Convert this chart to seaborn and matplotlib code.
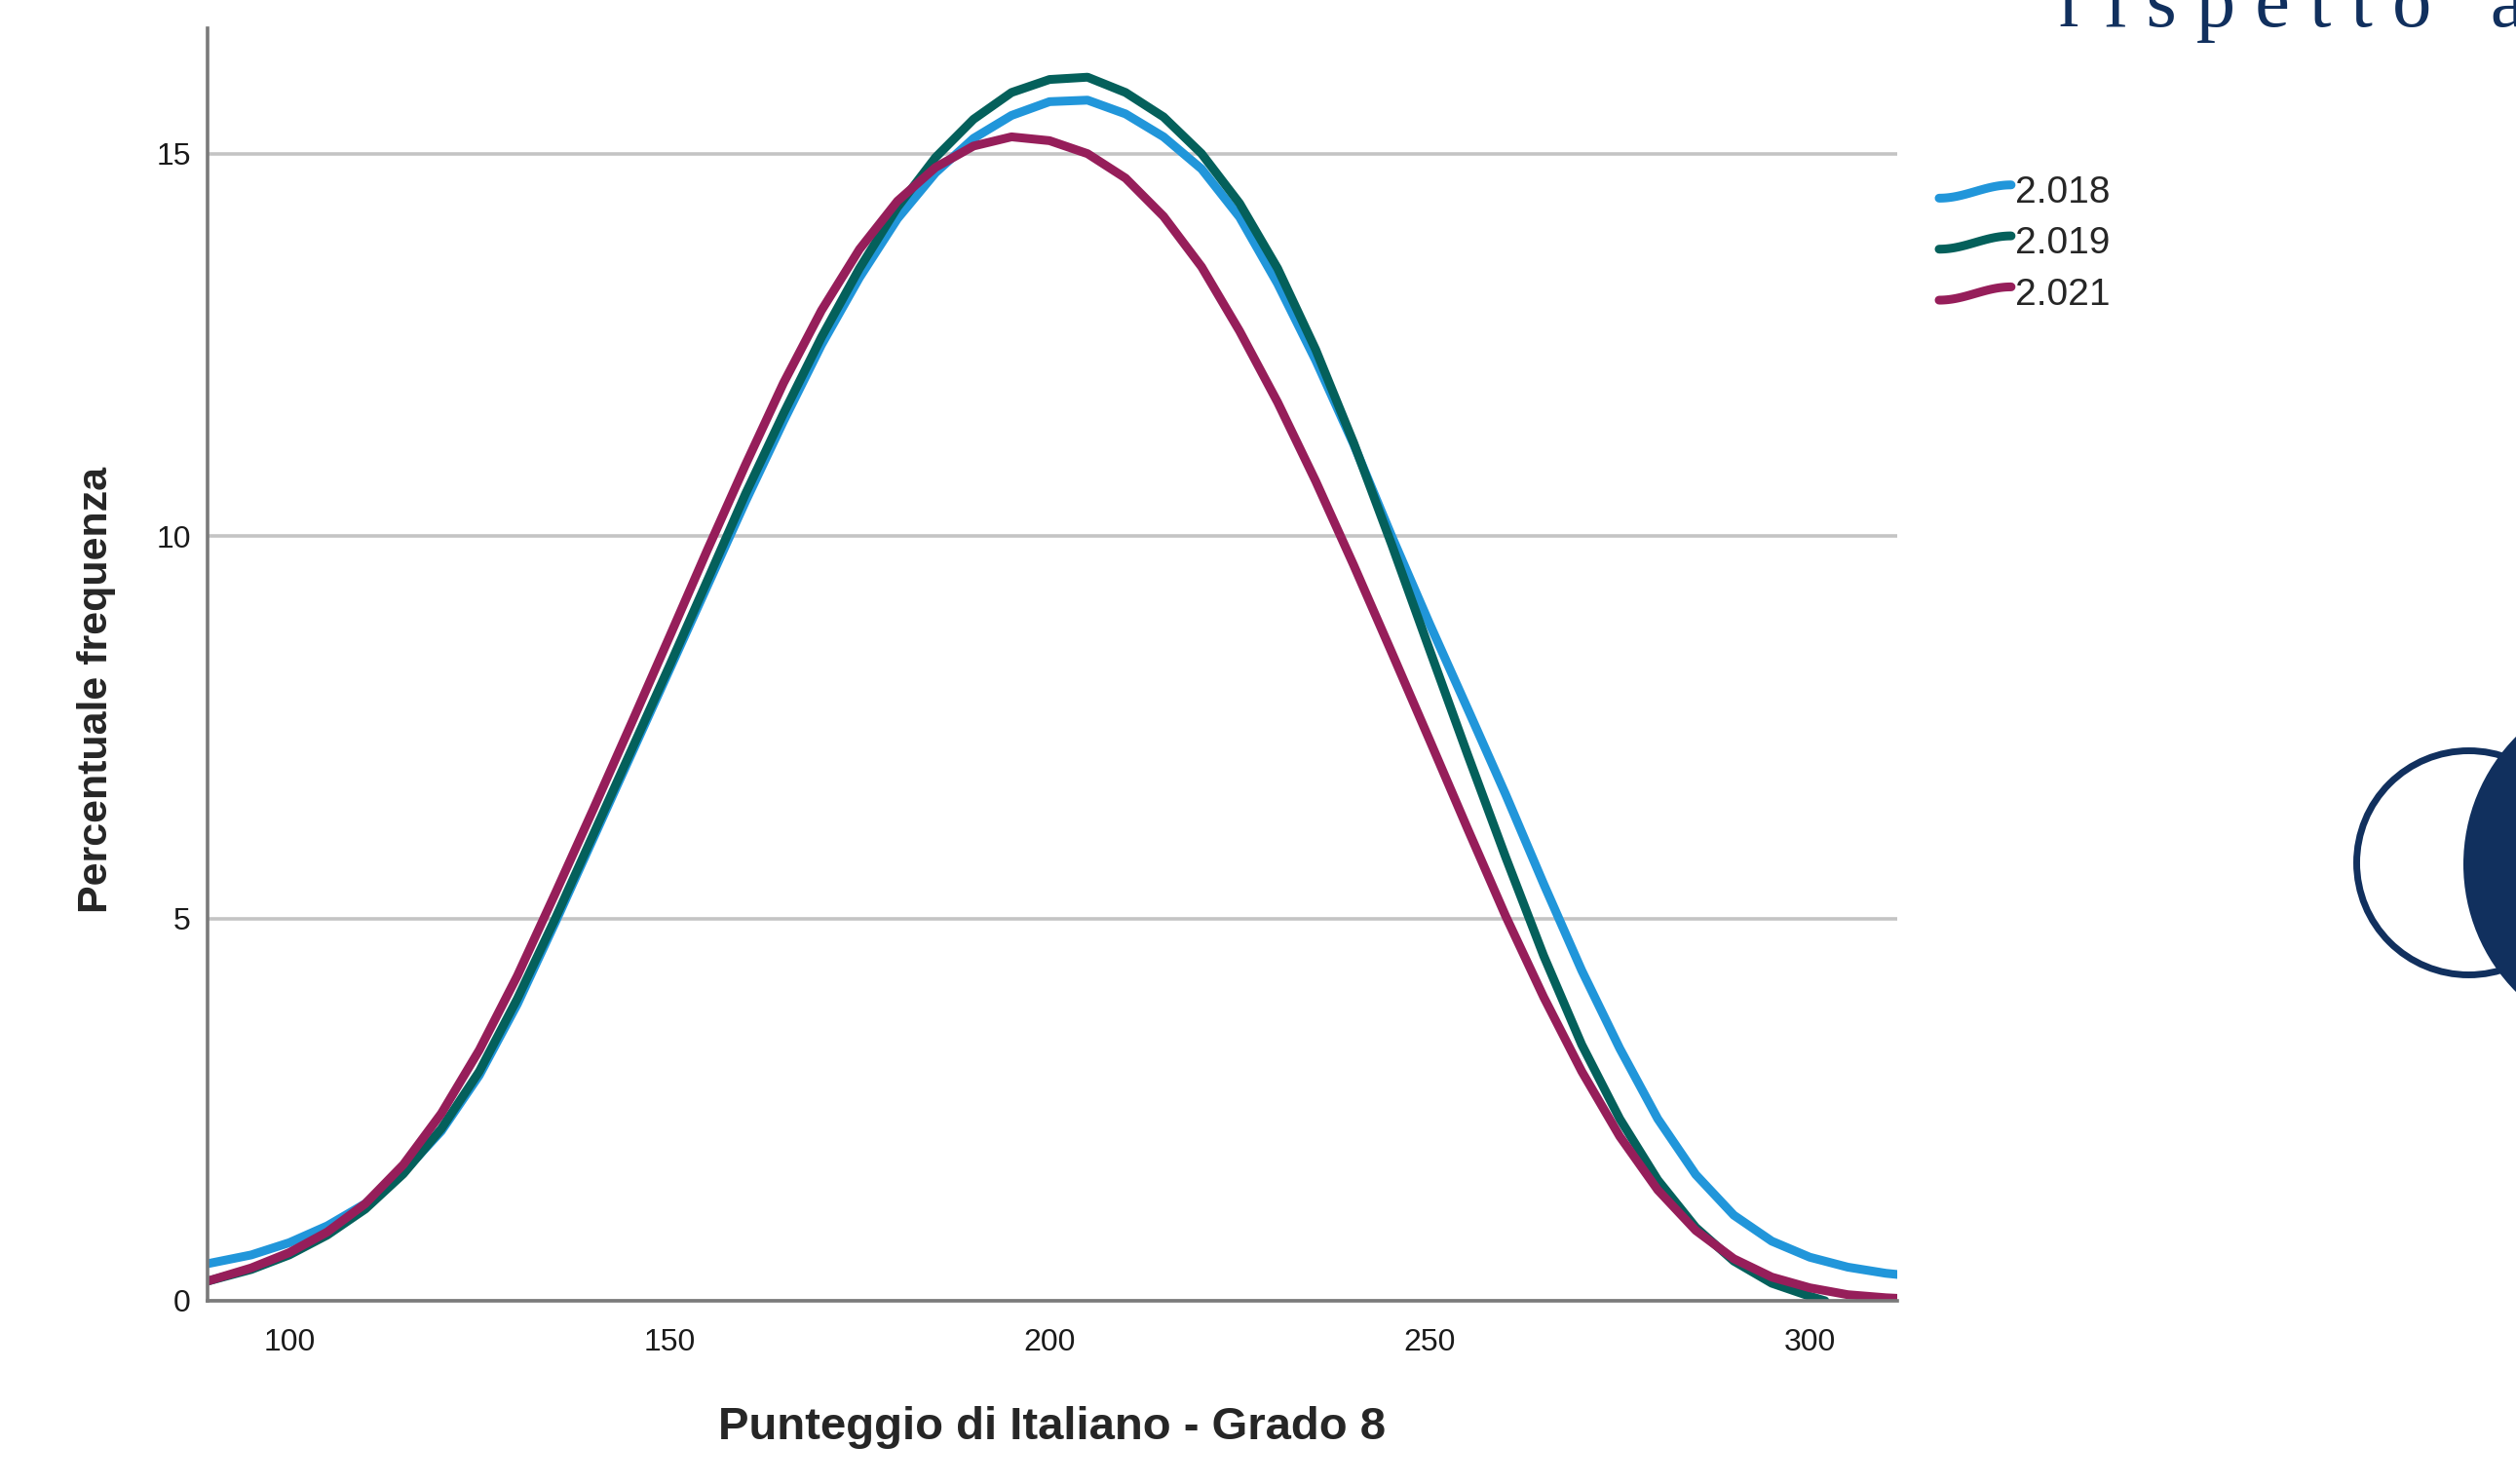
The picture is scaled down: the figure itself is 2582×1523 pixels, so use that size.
import matplotlib
matplotlib.use("Agg")
import matplotlib.pyplot as plt
import seaborn as sns
import numpy as np
import pandas as pd
from matplotlib.lines import Line2D
from matplotlib.legend_handler import HandlerBase
from matplotlib.patches import Circle

# values (percent frequency by score)
scores = [89] + list(range(95, 311, 5)) + [312]
scores_2019 = [89] + list(range(95, 301, 5)) + [302]

freq_2018 = [0.48, 0.6, 0.76, 0.98, 1.27, 1.68, 2.22, 2.95, 3.88, 4.95,
             6.05, 7.15, 8.25, 9.35, 10.45, 11.5, 12.5, 13.38, 14.15, 14.75,
             15.2, 15.5, 15.68, 15.7, 15.52, 15.22, 14.8, 14.17, 13.3, 12.3,
             11.2, 10.0, 8.85, 7.74, 6.62, 5.45, 4.32, 3.3, 2.38, 1.65,
             1.12, 0.78, 0.57, 0.44, 0.36, 0.34]
freq_2019 = [0.25, 0.41, 0.6, 0.86, 1.2, 1.66, 2.25, 3.0, 3.95, 5.0,
             6.1, 7.2, 8.3, 9.42, 10.55, 11.6, 12.6, 13.5, 14.3, 14.95,
             15.45, 15.8, 15.97, 16.0, 15.8, 15.48, 15.0, 14.35, 13.5, 12.44,
             11.22, 9.89, 8.51, 7.14, 5.8, 4.51, 3.35, 2.38, 1.58, 0.96,
             0.52, 0.23, 0.06, 0.0]
freq_2021 = [0.25, 0.43, 0.63, 0.9, 1.27, 1.78, 2.45, 3.28, 4.25, 5.33,
             6.43, 7.55, 8.68, 9.82, 10.93, 12.0, 12.95, 13.75, 14.38, 14.82,
             15.1, 15.22, 15.17, 15.0, 14.68, 14.18, 13.52, 12.68, 11.75, 10.72,
             9.62, 8.48, 7.33, 6.17, 5.03, 3.97, 3.0, 2.15, 1.45, 0.92,
             0.55, 0.31, 0.17, 0.08, 0.04, 0.03]

years = ["2.018", "2.019", "2.021"]
colors = ["#2196da", "#04605b", "#961e5a"]

df = pd.concat([
    pd.DataFrame({"punteggio": scores, "perc": freq_2018, "anno": years[0]}),
    pd.DataFrame({"punteggio": scores_2019, "perc": freq_2019, "anno": years[1]}),
    pd.DataFrame({"punteggio": scores, "perc": freq_2021, "anno": years[2]}),
])

sns.set_style("white")
plt.rcParams["font.family"] = ["Liberation Sans", "DejaVu Sans"]

W, H = 2582, 1523
fig = plt.figure(figsize=(W / 100, H / 100), dpi=100)
ax = fig.add_axes([212.6 / W, 1 - 1335 / H, (1947 - 212.6) / W, (1335 - 29) / H])

sns.lineplot(data=df, x="punteggio", y="perc", hue="anno", hue_order=years,
             palette=colors, ax=ax, legend=False, sort=True)
for ln in ax.lines:
    ln.set_linewidth(6.5)
    ln.set_solid_joinstyle("round")
    ln.set_solid_capstyle("round")

ax.set_xlim(89.2, 311.5)
ax.set_ylim(0, 16.64)
ax.set_xticks([100, 150, 200, 250, 300])
ax.set_yticks([0, 5, 10, 15])
ax.yaxis.grid(True, color="#c4c4c4", linewidth=2.6)
ax.xaxis.grid(False)
ax.set_axisbelow(True)
for s in ["top", "right"]:
    ax.spines[s].set_visible(False)
for s in ["left", "bottom"]:
    ax.spines[s].set_color("#7a7a7a")
    ax.spines[s].set_linewidth(2.6)
ax.tick_params(axis="both", length=0, labelsize=23, labelcolor="#1a1a1a")
ax.tick_params(axis="x", pad=20)
ax.tick_params(axis="y", pad=12)

label_font = dict(family=["Liberation Sans Narrow", "Liberation Sans"], weight="bold")
ax.set_xlabel("Punteggio di Italiano - Grado 8", labelpad=36, size=34, **label_font)
ax.set_ylabel("Percentuale frequenza", size=31, **label_font)
ax.yaxis.set_label_coords(-0.054, 0.48)


class WaveHandler(HandlerBase):
    def create_artists(self, legend, orig_handle, xdescent, ydescent,
                       width, height, fontsize, trans):
        t = np.linspace(0, 1, 40)
        x = -xdescent + t * width
        y = -ydescent + height * 0.42 + height * 0.25 * np.sin(np.pi * (t - 0.5))
        line = Line2D(x, y, color=orig_handle.get_color(),
                      linewidth=orig_handle.get_linewidth(),
                      solid_capstyle="round")
        line.set_transform(trans)
        return [line]


handles = [Line2D([], [], color=c, linewidth=6.5) for c in colors]
fig.legend(handles, years, loc="upper left",
           bbox_to_anchor=(1990 / W, 1 - 180 / H), bbox_transform=fig.transFigure,
           frameon=False, fontsize=28, handlelength=1.9, handletextpad=0.1,
           labelspacing=0.42, borderpad=0, borderaxespad=0,
           handler_map={Line2D: WaveHandler()})

# slide decorations on the right edge
navy = "#11305e"
fig.text(2113 / W, 1 - 27 / H, "r i s p e t t o   a", color=navy,
         family=["Liberation Serif", "DejaVu Serif"], fontsize=58,
         ha="left", va="baseline")

deco = fig.add_axes([0, 0, 1, 1], zorder=-1)
deco.set_xlim(0, W)
deco.set_ylim(H, 0)
deco.set_axis_off()
deco.add_patch(Circle((2533.5, 885.5), 115, facecolor="white",
                      edgecolor=navy, linewidth=5))
deco.add_patch(Circle((2714, 887), 186, facecolor=navy, edgecolor="none"))

fig.savefig("out.png", dpi=100, facecolor="white")
